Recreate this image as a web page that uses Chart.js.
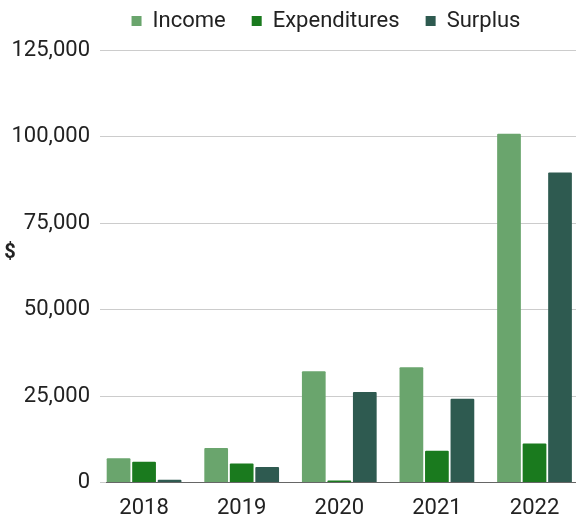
<!DOCTYPE html>
<html lang="en">
<head>
    <meta charset="UTF-8">
    <title>Income, Expenditures and Surplus</title>
    <style>
        body { margin: 0; background: #fff; }
        canvas { display: block; }
    </style>
</head>
<body>
    <canvas id="financeChart" width="576" height="516"></canvas>

    <script src="https://cdn.jsdelivr.net/npm/chart.js"></script>
    <script>
        // data
        const years = [2018, 2019, 2020, 2021, 2022];
        const income = [7000, 10000, 32200, 33300, 100800];
        const expenditures = [6000, 5500, 600, 9200, 11300];
        const surplus = [800, 4500, 26200, 24200, 89600];
        const yTicks = [0, 25000, 50000, 75000, 100000, 125000];

        const FONT = "Roboto, sans-serif";

        function toPoints(values) {
            return years.map((yr, i) => ({ x: yr, y: values[i] }));
        }

        // "$" axis title, drawn upright like the original,
        // and the legend nudged so it sits centred over the plot, near the top
        const extras = {
            id: 'extras',
            afterLayout(chart) {
                const lg = chart.legend;
                lg.left += 76;
                lg.top -= 8;
                lg.bottom -= 8;
            },
            afterDraw(chart) {
                const ctx = chart.ctx;
                const area = chart.chartArea;
                ctx.save();
                ctx.font = 'bold 20px ' + FONT;
                ctx.fillStyle = '#222';
                ctx.textAlign = 'center';
                ctx.textBaseline = 'middle';
                ctx.fillText('$', 10, area.top + (area.bottom - area.top) * 0.47);
                ctx.restore();
            }
        };

        const ctx = document.getElementById('financeChart').getContext('2d');
        new Chart(ctx, {
            type: 'bar',
            data: {
                datasets: [
                    { label: 'Income', data: toPoints(income), backgroundColor: '#6aa56d' },
                    { label: 'Expenditures', data: toPoints(expenditures), backgroundColor: '#1a7a1e' },
                    { label: 'Surplus', data: toPoints(surplus), backgroundColor: '#2e5a50' }
                ]
            },
            options: {
                responsive: false,
                animation: false,
                layout: { padding: { top: -18, left: 0, right: 0, bottom: -11 } },
                datasets: {
                    bar: { categoryPercentage: 0.784, barPercentage: 0.93, borderRadius: 1 }
                },
                plugins: {
                    legend: {
                        position: 'top',
                        labels: {
                            boxWidth: 10,
                            boxHeight: 10,
                            padding: 26,
                            color: '#222',
                            font: { family: FONT, size: 22 }
                        }
                    },
                    tooltip: { enabled: false }
                },
                scales: {
                    x: {
                        type: 'linear',
                        offset: false,
                        min: 2017.61,
                        max: 2022.425,
                        grid: { display: false },
                        border: { display: true, color: '#666', width: 1 },
                        ticks: {
                            stepSize: 1,
                            includeBounds: false,
                            color: '#222',
                            padding: 5,
                            font: { family: FONT, size: 22 },
                            callback: v => String(v)
                        }
                    },
                    y: {
                        min: 0,
                        max: 125000,
                        afterBuildTicks: s => { s.ticks = yTicks.map(v => ({ value: v })); },
                        afterFit: s => { s.width = 106; s.paddingTop = 50; },
                        border: { display: false },
                        grid: { color: '#cccccc', tickLength: 6 },
                        ticks: {
                            color: '#222',
                            padding: 10,
                            font: { family: FONT, size: 22 },
                            callback: v => v.toLocaleString('en-US')
                        }
                    }
                }
            },
            plugins: [extras]
        });
    </script>
</body>
</html>
